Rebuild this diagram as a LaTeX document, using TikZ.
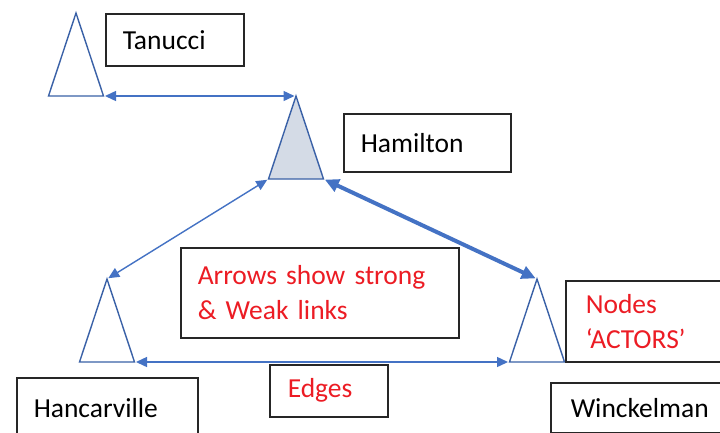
\documentclass[tikz,border=0pt]{standalone}
\usepackage{fontspec}
\setmainfont{Carlito}
\usetikzlibrary{arrows.meta}
\definecolor{linkblue}{RGB}{68,114,196}
\definecolor{actorfill}{RGB}{212,219,230}
\definecolor{notered}{RGB}{236,28,36}

\begin{document}
\begin{tikzpicture}[
  x=1pt, y=-1pt,
  actor/.style={draw=linkblue!85!black, line width=1.4pt, line join=miter},
  link/.style={
    draw=linkblue, line width=1.4pt,
    {Triangle[length=11pt,width=10pt]}-{Triangle[length=11pt,width=10pt]},
    shorten <=1.5pt, shorten >=1.5pt
  },
  strong/.style={
    link, line width=4pt,
    {Triangle[length=14pt,width=13pt]}-{Triangle[length=14pt,width=13pt]}
  },
  box/.style={
    draw=black!85, line width=1.5pt, anchor=north west,
    inner xsep=17pt, inner ysep=0pt, align=left,
    font=\fontsize{27.5}{35}\selectfont
  },
  note/.style={box, text=notered}
]
  \clip (0,0) rectangle (720,432);
  \fill[white] (0,0) rectangle (720,432);
  \foreach \n/\x/\y/\f in {tan/76/96/white,ham/296/179/actorfill,hnc/107/362/white,win/537/362/white} {
    \path (\x,\y) ++(0,-83) coordinate (\n-top) ++(-27.5,83) coordinate (\n-l) ++(55,0) coordinate (\n-r);
    \draw[actor, fill=\f] (\n-top) -- (\n-l) -- (\n-r) -- cycle;
  }
  \draw[link] (tan-r) -- (ham-top);
  \draw[link] (ham-l) -- (hnc-top);
  \draw[strong] (ham-r) -- (win-top);
  \draw[link] (hnc-r) -- (win-l);
  \node[box, minimum height=52pt, text width=104pt] (tanucci) at (105,13) {Tanucci};
  \node[box, minimum height=58pt, text width=133pt] (hamilton) at (343,113) {Hamilton};
  \node[box, minimum height=60pt, text width=147pt] (hancarville) at (16,377) {Hancarville};
  \node[box, inner xsep=20pt, minimum height=50pt, text width=150pt] (winckelman) at (550,382) {Winckelman};
  \node[note, minimum height=90pt, text width=244pt] (arrows) at (180,247) {Arrows show strong\\\& Weak links};
  \node[note, inner xsep=18pt, minimum height=52pt, text width=82pt] (edges) at (269,364) {Edges};
  \node[note, inner xsep=20pt, minimum height=81pt, text width=140pt] (nodes) at (565,280) {Nodes\\‘ACTORS’};
\end{tikzpicture}
\end{document}
